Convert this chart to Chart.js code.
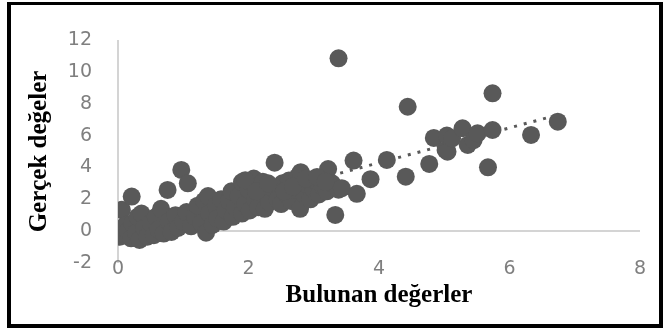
<!DOCTYPE html>
<html>
<head>
<meta charset="utf-8">
<script src="https://cdn.jsdelivr.net/npm/chart.js@4.4.0/dist/chart.umd.min.js"></script>
<style>
  html, body { margin: 0; padding: 0; background: #fff; overflow: hidden; }
  #wrap { position: relative; width: 667px; height: 329px; overflow: hidden; }
  #frame {
    position: absolute; left: 7px; top: 2px; width: 656px; height: 326px;
    box-sizing: border-box; border-style: solid; border-color: #000;
    border-width: 3px 4px 4px 4px; pointer-events: none;
  }
  canvas { position: absolute; left: 0; top: 0; }
</style>
</head>
<body>
<div id="wrap">
  <canvas id="scatterChart" width="667" height="329"></canvas>
  <div id="frame"></div>
</div>
<script>
// Bulunan (x) vs Gerçek (y) değerler
var xValues = [0.03, 0.05, 0.06, 0.10, 0.12, 0.15, 0.21, 0.20, 0.22, 0.28,
               0.30, 0.33, 0.36, 0.40, 0.45, 0.50, 0.55, 0.58, 0.62, 0.66,
               0.70, 0.76, 0.78, 0.82, 0.88, 0.92, 0.97, 1.00, 1.07, 1.05,
               1.12, 1.18, 1.22, 1.28, 1.32, 1.35, 1.38, 1.40, 1.45, 1.50,
               1.52, 1.58, 1.62, 1.65, 1.70, 1.74, 1.76, 1.80, 1.85, 1.90,
               1.90, 1.95, 2.00, 2.02, 2.08, 2.10, 2.15, 2.18, 2.22, 2.25,
               2.28, 2.32, 2.40, 2.40, 2.45, 2.50, 2.52, 2.58, 2.62, 2.65,
               2.70, 2.75, 2.79, 2.80, 2.85, 2.90, 2.95, 3.00, 3.02, 3.08,
               3.14, 3.20, 3.22, 3.28, 3.33, 3.38, 3.43, 3.38, 3.61, 3.66,
               3.87, 4.12, 4.41, 4.44, 4.77, 4.84, 5.02, 5.05, 5.04, 5.12,
               5.28, 5.36, 5.45, 5.51, 5.67, 5.74, 5.74, 6.33, 6.74,
               1.95, 2.12, 2.30, 2.55, 2.68, 2.88, 3.05, 3.18];
var yValues = [-0.35, 0.10, 1.34, -0.20, 0.40, 0.00, 2.17, -0.45, 0.50, -0.10,
               0.90, -0.55, 1.10, 0.20, -0.35, 0.50, -0.25, 0.90, 0.10, 1.40,
               -0.15, 2.59, 0.60, -0.05, 1.00, 0.20, 3.84, 0.60, 3.00, 1.20,
               0.30, 0.90, 1.60, 0.50, 1.90, -0.10, 2.20, 1.10, 0.40, 1.60,
               0.80, 2.00, 0.60, 1.30, 1.90, 2.50, 0.90, 1.50, 2.20, 3.08,
               1.10, 1.70, 2.60, 1.30, 3.30, 2.00, 1.50, 2.80, 3.10, 1.40,
               2.30, 1.80, 4.30, 2.60, 2.00, 1.70, 3.00, 2.30, 3.18, 1.90,
               2.60, 3.40, 1.40, 3.70, 2.30, 2.90, 2.00, 2.60, 3.20, 2.30,
               2.80, 2.50, 3.90, 3.00, 1.02, 2.60, 2.70, 10.85, 4.43, 2.34,
               3.26, 4.47, 3.42, 7.81, 4.22, 5.85, 5.10, 4.99, 6.00, 5.83,
               6.46, 5.41, 5.72, 6.14, 4.01, 6.35, 8.65, 6.04, 6.87,
               3.20, 2.50, 3.00, 2.50, 2.80, 3.30, 3.40, 3.10];

// dotted linear trend line end points
var trendX = [0.00, 6.80];
var trendY = [-0.09, 7.36];

var xTicks = [0, 2, 4, 6, 8];
var yTicks = [-2, 0, 2, 4, 6, 8, 10, 12];

var points = [];
for (var i = 0; i < xValues.length; i++) {
    points.push({x: xValues[i], y: yValues[i]});
}
var trend = [];
for (var i = 0; i < trendX.length; i++) {
    trend.push({x: trendX[i], y: trendY[i]});
}

var tickFont = {family: "'DejaVu Sans', sans-serif", size: 19};
var titleFont = {family: "'Liberation Serif', 'Times New Roman', serif", size: 25, weight: 'bold'};

function zeroLine(ctx) {
    return ctx.tick && ctx.tick.value === 0 ? '#d4d4d4' : 'rgba(0,0,0,0)';
}

var ctx = document.getElementById('scatterChart').getContext('2d');
var scatterChart = new Chart(ctx, {
    type: 'scatter',
    data: {
        datasets: [{
            label: 'Gerçek değerler',
            data: points,
            backgroundColor: '#595959',
            borderWidth: 0,
            pointRadius: 9,
            pointHoverRadius: 9,
            order: 1
        }, {
            type: 'line',
            label: 'Trend',
            data: trend,
            borderColor: '#595959',
            borderWidth: 3,
            borderDash: [3, 7],
            pointRadius: 0,
            fill: false,
            order: 2
        }]
    },
    options: {
        responsive: false,
        animation: false,
        layout: {padding: {left: 0, right: 27, top: 40, bottom: 18}},
        plugins: {
            legend: {display: false},
            tooltip: {enabled: false}
        },
        scales: {
            x: {
                type: 'linear',
                min: 0,
                max: 8,
                afterBuildTicks: function (scale) {
                    scale.ticks = xTicks.map(function (v) { return {value: v}; });
                },
                afterFit: function (scale) { scale.height = 48; },
                border: {display: false},
                grid: {color: zeroLine, lineWidth: 2, drawTicks: false},
                // mirror keeps the labels from being clipped where they overlap the plot bottom
                ticks: {color: '#7f7f7f', font: tickFont, mirror: true, padding: -17},
                title: {
                    display: true,
                    text: 'Bulunan değerler',
                    color: '#000',
                    font: titleFont,
                    padding: {top: 0, bottom: 0}
                }
            },
            y: {
                type: 'linear',
                min: -2,
                max: 12,
                afterBuildTicks: function (scale) {
                    scale.ticks = yTicks.map(function (v) { return {value: v}; });
                },
                afterFit: function (scale) { scale.width = 118; },
                border: {display: false},
                grid: {color: zeroLine, lineWidth: 2, drawTicks: false},
                ticks: {color: '#7f7f7f', font: tickFont, padding: 26},
                title: {
                    display: true,
                    text: 'Gerçek değeler',
                    color: '#000',
                    font: titleFont,
                    padding: {top: 25, bottom: 0}
                }
            }
        }
    }
});
</script>
</body>
</html>
